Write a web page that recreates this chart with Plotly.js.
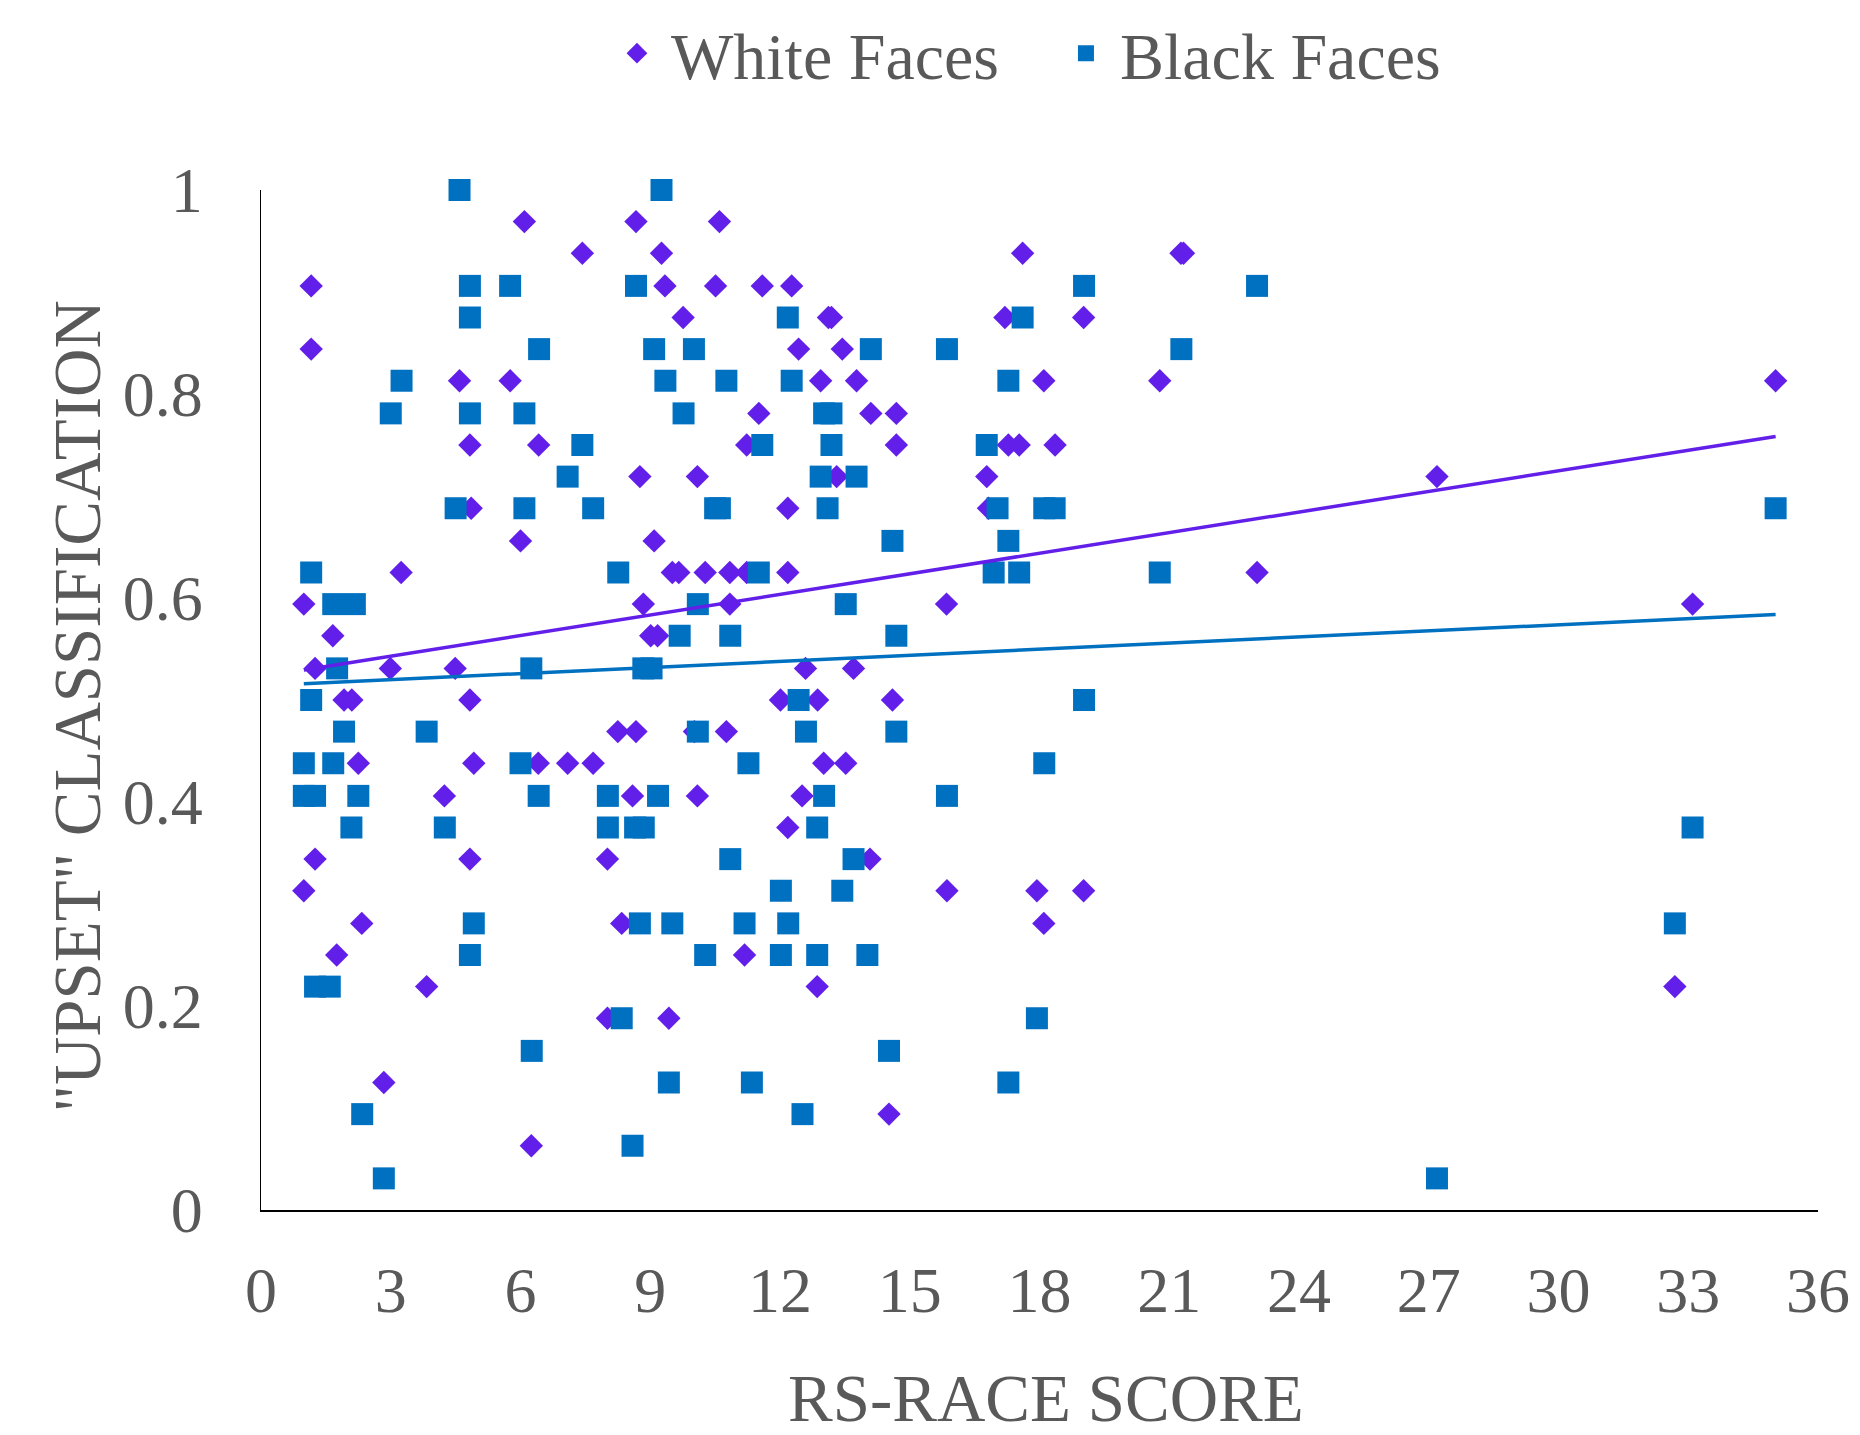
<!DOCTYPE html>
<html>
<head>
<meta charset="utf-8">
<script src="https://cdn.plot.ly/plotly-3.0.1.min.js"></script>
<style>html,body{margin:0;padding:0;background:#fff;}#chart{width:1860px;height:1435px;}</style>
</head>
<body>
<div id="chart"></div>
<script>
// White Faces (diamonds)
const whiteX = [6.09,8.67,10.60,7.43,9.26,17.61,21.27,21.33,1.16,9.34,10.51,11.59,12.27,9.76,13.12,13.19,17.20,19.02,1.16,12.43,13.44,4.59,5.76,12.94,13.77,18.10,20.78,35.02,11.51,14.10,14.69,4.83,6.42,11.23,14.69,17.28,17.53,18.36,8.76,10.09,13.31,16.78,27.19,4.86,12.18,16.82,6.0,9.09,3.24,9.51,9.66,10.27,10.84,11.23,12.18,23.03,0.99,8.84,10.84,15.85,33.10,1.66,9.01,9.17,1.25,2.99,4.49,12.59,13.70,1.92,2.10,4.83,12.01,12.87,14.60,8.25,8.67,10.02,10.76,2.25,4.92,6.41,7.09,7.68,13.01,13.52,4.24,8.59,10.09,12.51,12.18,1.25,4.83,8.01,14.08,0.99,15.86,17.94,19.02,2.33,8.34,18.10,1.75,11.18,3.83,12.86,32.69,8.01,9.43,2.84,14.52,6.25];
const whiteY = [0.969,0.969,0.969,0.938,0.938,0.938,0.938,0.938,0.906,0.906,0.906,0.906,0.906,0.875,0.875,0.875,0.875,0.875,0.844,0.844,0.844,0.813,0.813,0.813,0.813,0.813,0.813,0.813,0.781,0.781,0.781,0.75,0.75,0.75,0.75,0.75,0.75,0.75,0.719,0.719,0.719,0.719,0.719,0.688,0.688,0.688,0.656,0.656,0.625,0.625,0.625,0.625,0.625,0.625,0.625,0.625,0.594,0.594,0.594,0.594,0.594,0.563,0.563,0.563,0.531,0.531,0.531,0.531,0.531,0.5,0.5,0.5,0.5,0.5,0.5,0.469,0.469,0.469,0.469,0.438,0.438,0.438,0.438,0.438,0.438,0.438,0.406,0.406,0.406,0.406,0.375,0.344,0.344,0.344,0.344,0.313,0.313,0.313,0.313,0.281,0.281,0.281,0.25,0.25,0.219,0.219,0.219,0.188,0.188,0.125,0.094,0.063];

// Black Faces (squares)
const blackX = [4.59,9.26,4.83,5.76,8.67,19.03,23.03,4.83,12.18,17.61,6.43,9.09,10.01,14.10,15.86,21.28,3.25,9.35,10.76,12.27,17.28,3.0,4.83,6.09,9.77,13.02,13.19,7.43,11.59,13.19,16.78,7.09,12.94,13.77,4.50,6.09,7.68,10.50,10.61,13.10,17.03,18.11,18.35,35.02,14.60,17.28,1.16,8.26,11.51,16.94,17.53,20.78,1.67,2.17,10.10,13.52,9.68,10.85,14.69,1.76,6.25,8.84,9.03,1.16,12.43,19.03,1.92,3.83,10.10,12.60,14.69,0.99,1.67,6.0,11.27,18.11,0.99,1.25,2.25,6.42,8.02,9.18,13.02,15.86,2.09,4.25,8.02,8.65,8.85,12.86,33.10,10.85,13.70,12.02,13.44,4.92,8.76,9.51,11.18,12.19,32.69,4.83,10.27,12.02,12.86,14.02,1.25,1.59,8.34,17.94,6.26,14.52,9.43,11.35,17.28,2.34,12.52,8.59,2.84,27.19];
const blackY = [1,1,0.906,0.906,0.906,0.906,0.906,0.875,0.875,0.875,0.844,0.844,0.844,0.844,0.844,0.844,0.813,0.813,0.813,0.813,0.813,0.781,0.781,0.781,0.781,0.781,0.781,0.75,0.75,0.75,0.75,0.719,0.719,0.719,0.688,0.688,0.688,0.688,0.688,0.688,0.688,0.688,0.688,0.688,0.656,0.656,0.625,0.625,0.625,0.625,0.625,0.625,0.594,0.594,0.594,0.594,0.563,0.563,0.563,0.531,0.531,0.531,0.531,0.5,0.5,0.5,0.469,0.469,0.469,0.469,0.469,0.438,0.438,0.438,0.438,0.438,0.406,0.406,0.406,0.406,0.406,0.406,0.406,0.406,0.375,0.375,0.375,0.375,0.375,0.375,0.375,0.344,0.344,0.313,0.313,0.281,0.281,0.281,0.281,0.281,0.281,0.25,0.25,0.25,0.25,0.25,0.219,0.219,0.188,0.188,0.156,0.156,0.125,0.125,0.125,0.094,0.094,0.063,0.031,0.031];

const seriesNames = ["White Faces", "Black Faces"];
const xTickVals = [0,3,6,9,12,15,18,21,24,27,30,33,36];
const yTickVals = [0,0.2,0.4,0.6,0.8,1];
const xTitle = "RS-RACE SCORE";
const yTitle = "\"UPSET\" CLASSIFICATION";

const WHITE_COLOR = "#631FEA";
const BLACK_COLOR = "#0070C0";
const TEXT_COLOR = "#595959";
const FONT = "'Liberation Serif', 'Times New Roman', serif";

// least-squares linear trendline over the data range (as a spreadsheet trendline)
function trend(xs, ys) {
  const n = xs.length;
  let sx = 0, sy = 0, sxx = 0, sxy = 0;
  for (let i = 0; i < n; i++) { sx += xs[i]; sy += ys[i]; sxx += xs[i]*xs[i]; sxy += xs[i]*ys[i]; }
  const b = (n*sxy - sx*sy) / (n*sxx - sx*sx);
  const a = (sy - b*sx) / n;
  const x0 = Math.min(...xs), x1 = Math.max(...xs);
  return { x: [x0, x1], y: [a + b*x0, a + b*x1] };
}
const wt = trend(whiteX, whiteY);
const bt = trend(blackX, blackY);

const data = [
  { type: "scatter", mode: "markers", name: seriesNames[0], x: whiteX, y: whiteY, cliponaxis: false,
    marker: { symbol: "diamond", size: 18, color: WHITE_COLOR, line: { width: 0 } } },
  { type: "scatter", mode: "markers", name: seriesNames[1], x: blackX, y: blackY, cliponaxis: false,
    marker: { symbol: "square", size: 22, color: BLACK_COLOR, line: { width: 0 } } },
  { type: "scatter", mode: "lines", x: wt.x, y: wt.y, showlegend: false, hoverinfo: "skip", cliponaxis: false,
    line: { color: WHITE_COLOR, width: 3.5 } },
  { type: "scatter", mode: "lines", x: bt.x, y: bt.y, showlegend: false, hoverinfo: "skip", cliponaxis: false,
    line: { color: BLACK_COLOR, width: 3.5 } }
];

const layout = {
  width: 1860, height: 1435,
  margin: { l: 261, r: 42, t: 190, b: 225, autoexpand: false },
  paper_bgcolor: "#ffffff", plot_bgcolor: "#ffffff",
  font: { family: FONT, size: 64, color: TEXT_COLOR },
  showlegend: true,
  legend: {
    orientation: "h", x: 0.508, xanchor: "center", y: 1.134, yanchor: "middle",
    font: { family: FONT, size: 66, color: TEXT_COLOR },
    itemwidth: 58, entrywidth: 376,
    itemclick: false, itemdoubleclick: false
  },
  xaxis: {
    range: [0, 36], tickmode: "array", tickvals: xTickVals,
    showgrid: false, zeroline: false,
    showline: true, linecolor: "#000000", linewidth: 2,
    ticks: "", ticklabelstandoff: 23,
    tickfont: { family: FONT, size: 64, color: TEXT_COLOR },
    automargin: false
  },
  yaxis: {
    range: [0, 1], tickmode: "array", tickvals: yTickVals,
    showgrid: false, zeroline: false,
    showline: true, linecolor: "#000000", linewidth: 1.5,
    ticks: "", ticklabelstandoff: 44,
    tickfont: { family: FONT, size: 64, color: TEXT_COLOR },
    automargin: false
  },
  annotations: [
    { text: xTitle, xref: "paper", yref: "paper", x: 0.504, y: -0.184,
      xanchor: "center", yanchor: "middle", showarrow: false,
      font: { family: FONT, size: 67, color: TEXT_COLOR } },
    { text: yTitle, xref: "paper", yref: "paper", x: -0.118, y: 0.494, textangle: -90,
      xanchor: "center", yanchor: "middle", showarrow: false,
      font: { family: FONT, size: 67, color: TEXT_COLOR } }
  ]
};

Plotly.newPlot("chart", data, layout, { displayModeBar: false, staticPlot: true });
</script>
</body>
</html>
